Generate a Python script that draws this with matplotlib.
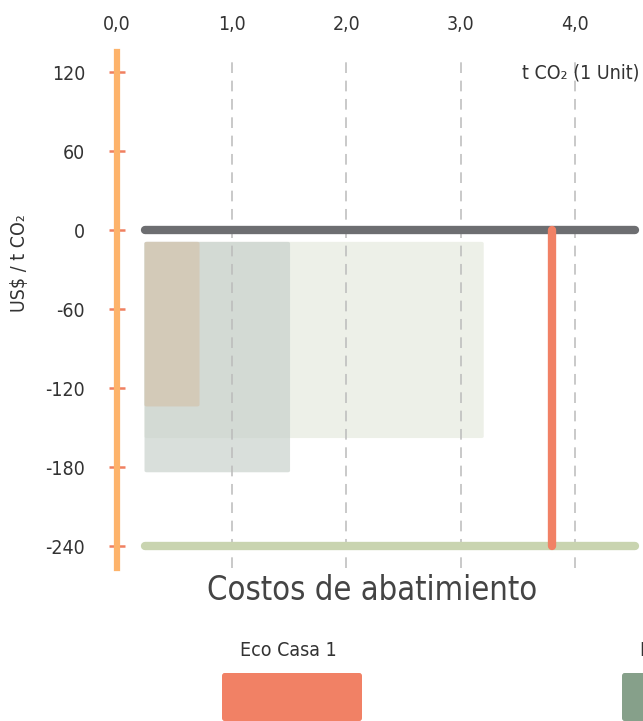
import matplotlib
matplotlib.use("Agg")
import matplotlib.pyplot as plt
from matplotlib.patches import FancyBboxPatch

plt.rcParams['font.family'] = ['DejaVu Sans']
plt.rcParams['font.stretch'] = 'condensed'

# datos
x_ticks = [0, 1, 2, 3, 4]
x_labels = ["0,0", "1,0", "2,0", "3,0", "4,0"]
y_ticks = [120, 60, 0, -60, -120, -180, -240]

# rectangulos: (x inicio, x fin, y arriba, y abajo)
rect_x0 = [0.24, 0.24, 0.24]
rect_x1 = [3.20, 1.51, 0.72]
rect_top = [-9, -9, -9]
rect_bottom = [-158, -184, -134]
rect_colors = ["#EDF0E8", "#C9D2CC", "#D3CAB8"]
rect_alpha = [1.0, 0.7, 1.0]

line_x0 = 0.24
line_x1 = 4.52
zero_y = 0
base_y = -240
eco_x = 3.80

legend_names = ["Eco Casa 1", "Eco Casa 2"]
legend_colors = ["#F18165", "#86A08A"]

fig = plt.figure(figsize=(6.43, 7.21), dpi=100)
ax = fig.add_axes([117/643, (721-568)/721, 526/643, 516/721])
ax.set_xlim(0, 526/114.6)
ax.set_ylim(-256.7, 135.2)

for i in range(len(rect_x0)):
    r = FancyBboxPatch((rect_x0[i], rect_bottom[i]), rect_x1[i]-rect_x0[i], rect_top[i]-rect_bottom[i],
                       boxstyle="round,pad=0,rounding_size=0.02", mutation_aspect=60,
                       facecolor=rect_colors[i], edgecolor="none", alpha=rect_alpha[i], zorder=1)
    ax.add_patch(r)

for xt in x_ticks[1:]:
    ax.axvline(xt, ymin=0.0, ymax=0.99, color="#BBBBBB", lw=1.1, dashes=(7, 5), zorder=2)

ax.plot([line_x0, line_x1], [zero_y, zero_y], color="#6D6E71", lw=6, solid_capstyle="round", zorder=3)
ax.plot([line_x0, line_x1], [base_y, base_y], color="#C9D4B0", lw=6, solid_capstyle="round", zorder=3)
ax.plot([eco_x, eco_x], [zero_y, base_y], color="#F18165", lw=6, solid_capstyle="round", zorder=4)

for s in ["top", "right", "bottom"]:
    ax.spines[s].set_visible(False)
ax.spines["left"].set_color("#FDB36B")
ax.spines["left"].set_linewidth(4.5)
ax.spines["left"].set_zorder(5)

ax.set_yticks(y_ticks)
ax.set_yticklabels([str(v) for v in y_ticks])
ax.tick_params(axis="y", direction="inout", length=12, width=1.8, color="#F08060",
               labelsize=14, pad=17, labelcolor="#333333")
ax.xaxis.tick_top()
ax.set_xticks(x_ticks)
ax.set_xticklabels(x_labels)
ax.tick_params(axis="x", length=0, labelsize=14, pad=13, labelcolor="#333333")

ax.set_ylabel("US$ / t CO₂", fontsize=14, color="#333333")
ax.yaxis.set_label_coords(-0.168, 0.59)
ax.text(4.56, 119, "t CO₂ (1 Unit)", fontsize=14, color="#333333", ha="right", va="center")

fig.text(372/643, 1 - 590/721, "Costos de abatimiento", fontsize=23.5, color="#444444",
         ha="center", va="center")

legend_x = [222, 622]
for i in range(len(legend_names)):
    fig.text((legend_x[i] + 18)/643, 1 - 650/721, legend_names[i], fontsize=14, color="#333333",
             ha="left", va="center")
    fig.patches.append(FancyBboxPatch((legend_x[i]/643, 0), 140/643, 48/721,
                                      boxstyle="round,pad=0,rounding_size=0.004",
                                      transform=fig.transFigure, facecolor=legend_colors[i],
                                      edgecolor="none"))

fig.savefig("out.png", dpi=100)
